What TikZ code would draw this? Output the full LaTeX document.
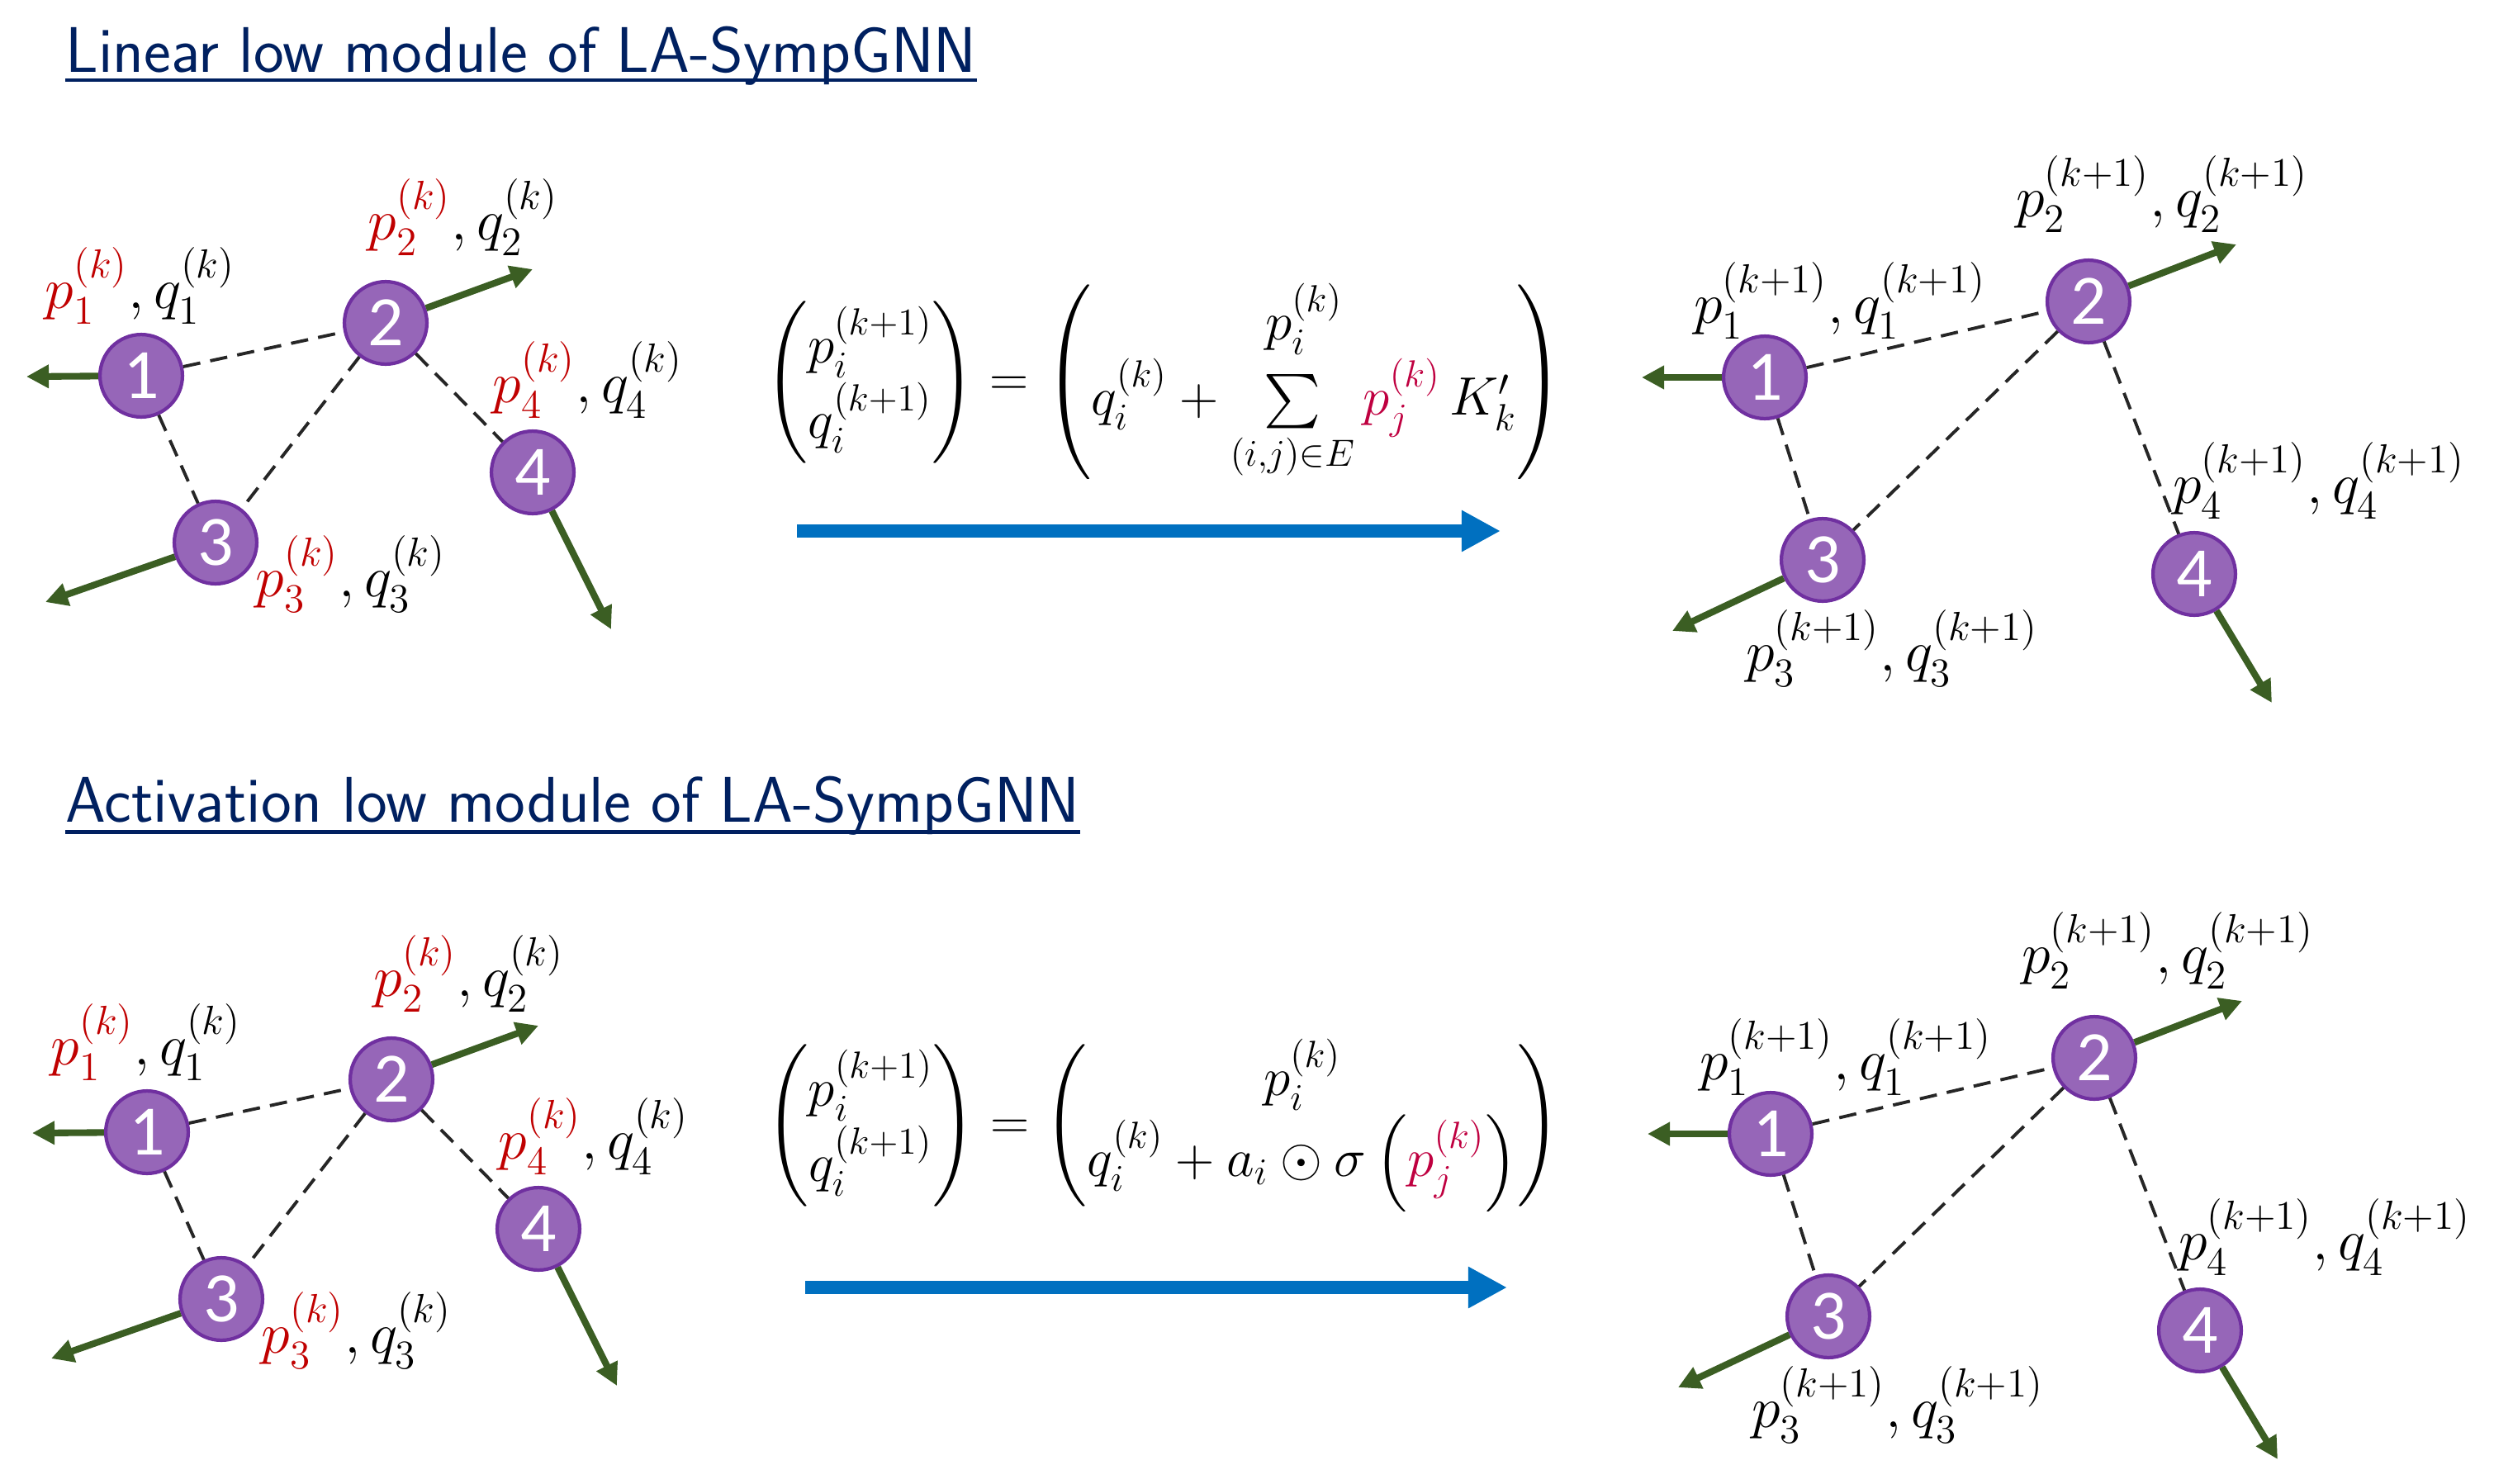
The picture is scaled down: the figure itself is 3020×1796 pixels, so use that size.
\RequirePackage{fix-cm}
\documentclass[tikz,border=0pt]{standalone}
\usepackage{amsmath,amssymb}
\usepackage{fontspec}
\usetikzlibrary{arrows.meta}
\newfontfamily\digitfont{Carlito}
\definecolor{nodefill}{HTML}{9666B8}
\definecolor{nodeline}{HTML}{7030A0}
\definecolor{velgreen}{HTML}{3B5E23}
\definecolor{pred}{HTML}{C00000}
\definecolor{titleblue}{HTML}{002060}
\definecolor{flowblue}{HTML}{0070C0}
\newcommand{\pold}[1]{{\color{pred}p_{#1}^{(k)}}}
\newcommand{\qold}[1]{q_{#1}^{(k)}}
\newcommand{\pnew}[1]{p_{#1}^{(k+1)}}
\newcommand{\qnew}[1]{q_{#1}^{(k+1)}}
\tikzset{
  particle/.style={
    shape = circle,
    draw = nodeline,
    fill = nodefill,
    line width = 1.2pt,
    minimum size = 28.4pt,
    inner sep = 0pt,
    text = white,
    font = \digitfont\fontsize{24.4}{26}\selectfont
  },
  velocity/.style={
    draw = velgreen,
    line width = 2.3pt,
    -{Triangle[length=7.7pt,width=7.7pt]}
  },
  bond/.style={
    draw = black!85,
    line width = 1.1pt,
    dash pattern = on 6pt off 3.5pt
  },
  state/.style={
    inner sep = 0pt,
    font = \fontsize{20}{24}\selectfont
  },
  heading/.style={
    inner sep = 0pt,
    anchor = base west,
    text = titleblue,
    font = \sffamily\fontsize{22.2}{26}\selectfont
  },
  update/.style={
    inner sep = 0pt,
    anchor = base,
    font = \fontsize{18.6}{22}\selectfont
  },
  flow/.style={
    draw = flowblue,
    line width = 4.6pt,
    -{Triangle[length=13.4pt,width=13.4pt]}
  }
}
\begin{document}
\begin{tikzpicture}[x=0.01cm, y=-0.01cm]
  \useasboundingbox (0,0) rectangle (3020,1796);
  % linear module
  \node[heading] (t1) at (79,87) {Linear low module of LA-SympGNN};
  \draw[titleblue, line width=1.3pt] ([yshift=-2.9pt]t1.base west) -- ([yshift=-2.9pt]t1.base east);
  \node[particle] (a1) at (171,455) {1};
  \node[particle] (a2) at (467,391) {2};
  \node[particle] (a3) at (261,657) {3};
  \node[particle] (a4) at (645,572) {4};
  \draw[bond] (a1) -- (a2);
  \draw[bond] (a1) -- (a3);
  \draw[bond] (a2) -- (a3);
  \draw[bond] (a2) -- (a4);
  \coordinate (va1) at (32,456);
  \coordinate (va2) at (645,326);
  \coordinate (va3) at (55,729);
  \coordinate (va4) at (740,762);
  \draw[velocity] (a1) -- (va1);
  \draw[velocity] (a2) -- (va2);
  \draw[velocity] (a3) -- (va3);
  \draw[velocity] (a4) -- (va4);
  \node[state] (la1) at (170,346) {$\pold{1}, \qold{1}$};
  \node[state] (la2) at (561,263) {$\pold{2}, \qold{2}$};
  \node[state] (la3) at (425,695) {$\pold{3}, \qold{3}$};
  \node[state] (la4) at (712,460) {$\pold{4}, \qold{4}$};
  \node[update] (f1) at (1410,479) {$\begin{pmatrix} p_i^{(k+1)}\\ q_i^{(k+1)} \end{pmatrix} = \begin{pmatrix} p_i^{(k)}\\ q_i^{(k)} + \sum\limits_{(i,j)\in E} {\color{purple}p_j^{(k)}}\, K'_k \end{pmatrix}$};
  \coordinate (s1) at (965,643);
  \coordinate (e1) at (1817,643);
  \draw[flow] (s1) -- (e1);
  \node[particle] (b1) at (2137,457) {1};
  \node[particle] (b2) at (2529,365) {2};
  \node[particle] (b3) at (2207,678) {3};
  \node[particle] (b4) at (2657,695) {4};
  \draw[bond] (b1) -- (b2);
  \draw[bond] (b1) -- (b3);
  \draw[bond] (b2) -- (b3);
  \draw[bond] (b2) -- (b4);
  \coordinate (vb1) at (1988,457);
  \coordinate (vb2) at (2708,296);
  \coordinate (vb3) at (2025,764);
  \coordinate (vb4) at (2751,851);
  \draw[velocity] (b1) -- (vb1);
  \draw[velocity] (b2) -- (vb2);
  \draw[velocity] (b3) -- (vb3);
  \draw[velocity] (b4) -- (vb4);
  \node[state] (lb1) at (2228,364) {$\pnew{1}, \qnew{1}$};
  \node[state] (lb2) at (2618,235) {$\pnew{2}, \qnew{2}$};
  \node[state] (lb3) at (2291,785) {$\pnew{3}, \qnew{3}$};
  \node[state] (lb4) at (2808,582) {$\pnew{4}, \qnew{4}$};
  % activation module
  \node[heading] (t2) at (79,995) {Activation low module of LA-SympGNN};
  \draw[titleblue, line width=1.3pt] ([yshift=-3.5pt]t2.base west) -- ([yshift=-3.5pt]t2.base east);
  \node[update] (f2) at (1408,1379) {$\begin{pmatrix} p_i^{(k+1)}\\ q_i^{(k+1)} \end{pmatrix} = \begin{pmatrix} p_i^{(k)}\\ q_i^{(k)} + a_i \odot \sigma\left({\color{purple}p_j^{(k)}}\right) \end{pmatrix}$};
  \coordinate (s2) at (975,1559);
  \coordinate (e2) at (1825,1559);
  \draw[flow] (s2) -- (e2);
  \begin{scope}[shift={(7,916)}]
    \node[particle] (c1) at (171,455) {1};
    \node[particle] (c2) at (467,391) {2};
    \node[particle] (c3) at (261,657) {3};
    \node[particle] (c4) at (645,572) {4};
    \draw[bond] (c1) -- (c2);
    \draw[bond] (c1) -- (c3);
    \draw[bond] (c2) -- (c3);
    \draw[bond] (c2) -- (c4);
    \coordinate (vc1) at (32,456);
    \coordinate (vc2) at (645,326);
    \coordinate (vc3) at (55,729);
    \coordinate (vc4) at (740,762);
    \draw[velocity] (c1) -- (vc1);
    \draw[velocity] (c2) -- (vc2);
    \draw[velocity] (c3) -- (vc3);
    \draw[velocity] (c4) -- (vc4);
    \node[state] (lc1) at (170,346) {$\pold{1}, \qold{1}$};
    \node[state] (lc2) at (561,263) {$\pold{2}, \qold{2}$};
    \node[state] (lc3) at (425,695) {$\pold{3}, \qold{3}$};
    \node[state] (lc4) at (712,460) {$\pold{4}, \qold{4}$};
    \node[particle] (d1) at (2137,457) {1};
    \node[particle] (d2) at (2529,365) {2};
    \node[particle] (d3) at (2207,678) {3};
    \node[particle] (d4) at (2657,695) {4};
    \draw[bond] (d1) -- (d2);
    \draw[bond] (d1) -- (d3);
    \draw[bond] (d2) -- (d3);
    \draw[bond] (d2) -- (d4);
    \coordinate (vd1) at (1988,457);
    \coordinate (vd2) at (2708,296);
    \coordinate (vd3) at (2025,764);
    \coordinate (vd4) at (2751,851);
    \draw[velocity] (d1) -- (vd1);
    \draw[velocity] (d2) -- (vd2);
    \draw[velocity] (d3) -- (vd3);
    \draw[velocity] (d4) -- (vd4);
    \node[state] (ld1) at (2228,364) {$\pnew{1}, \qnew{1}$};
    \node[state] (ld2) at (2618,235) {$\pnew{2}, \qnew{2}$};
    \node[state] (ld3) at (2291,785) {$\pnew{3}, \qnew{3}$};
    \node[state] (ld4) at (2808,582) {$\pnew{4}, \qnew{4}$};
  \end{scope}
\end{tikzpicture}
\end{document}
